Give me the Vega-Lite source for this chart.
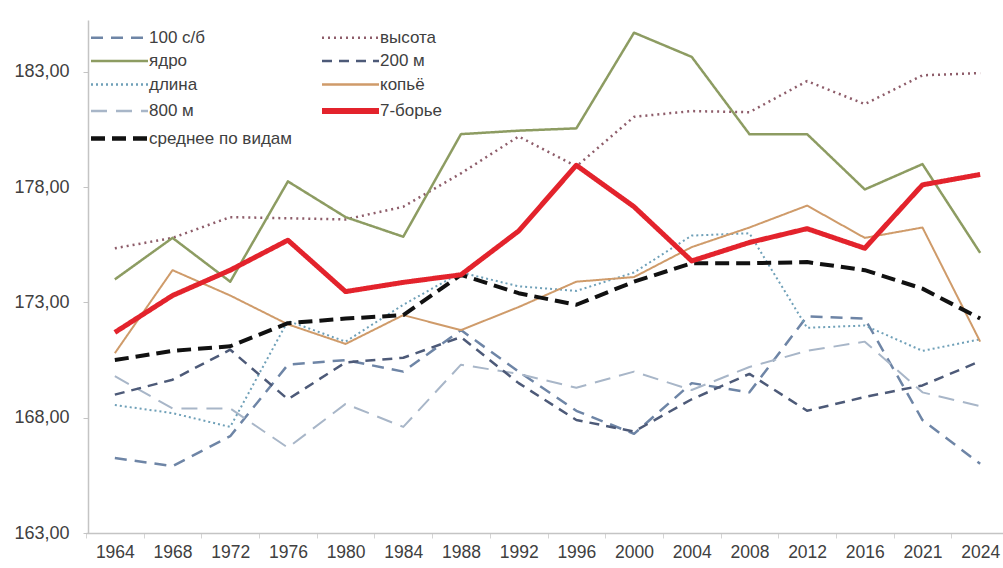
{
  "$schema": "https://vega.github.io/schema/vega-lite/v6.json",
  "width": 915,
  "height": 513,
  "autosize": {"type": "none"},
  "padding": {"left": 88, "top": 20, "right": 0, "bottom": 35},
  "background": "white",
  "config": {"view": {"stroke": null}, "font": "Liberation Sans"},
  "datasets": {
    "d": [
      {"year":1964,"series":"100 с/б","value":166.25},{"year":1968,"series":"100 с/б","value":165.9},{"year":1972,"series":"100 с/б","value":167.2},{"year":1976,"series":"100 с/б","value":170.3},{"year":1980,"series":"100 с/б","value":170.5},{"year":1984,"series":"100 с/б","value":170.0},{"year":1988,"series":"100 с/б","value":171.8},{"year":1992,"series":"100 с/б","value":170.0},{"year":1996,"series":"100 с/б","value":168.3},{"year":2000,"series":"100 с/б","value":167.3},{"year":2004,"series":"100 с/б","value":169.5},{"year":2008,"series":"100 с/б","value":169.1},{"year":2012,"series":"100 с/б","value":172.4},{"year":2016,"series":"100 с/б","value":172.3},{"year":2021,"series":"100 с/б","value":167.9},{"year":2024,"series":"100 с/б","value":166.0},
      {"year":1964,"series":"800 м","value":169.8},{"year":1968,"series":"800 м","value":168.4},{"year":1972,"series":"800 м","value":168.4},{"year":1976,"series":"800 м","value":166.7},{"year":1980,"series":"800 м","value":168.6},{"year":1984,"series":"800 м","value":167.6},{"year":1988,"series":"800 м","value":170.3},{"year":1992,"series":"800 м","value":169.9},{"year":1996,"series":"800 м","value":169.3},{"year":2000,"series":"800 м","value":170.0},{"year":2004,"series":"800 м","value":169.2},{"year":2008,"series":"800 м","value":170.2},{"year":2012,"series":"800 м","value":170.9},{"year":2016,"series":"800 м","value":171.3},{"year":2021,"series":"800 м","value":169.1},{"year":2024,"series":"800 м","value":168.5},
      {"year":1964,"series":"200 м","value":169.0},{"year":1968,"series":"200 м","value":169.65},{"year":1972,"series":"200 м","value":170.95},{"year":1976,"series":"200 м","value":168.8},{"year":1980,"series":"200 м","value":170.4},{"year":1984,"series":"200 м","value":170.6},{"year":1988,"series":"200 м","value":171.5},{"year":1992,"series":"200 м","value":169.5},{"year":1996,"series":"200 м","value":167.9},{"year":2000,"series":"200 м","value":167.4},{"year":2004,"series":"200 м","value":168.8},{"year":2008,"series":"200 м","value":169.9},{"year":2012,"series":"200 м","value":168.3},{"year":2016,"series":"200 м","value":168.9},{"year":2021,"series":"200 м","value":169.4},{"year":2024,"series":"200 м","value":170.45},
      {"year":1964,"series":"длина","value":168.55},{"year":1968,"series":"длина","value":168.2},{"year":1972,"series":"длина","value":167.6},{"year":1976,"series":"длина","value":172.2},{"year":1980,"series":"длина","value":171.3},{"year":1984,"series":"длина","value":172.9},{"year":1988,"series":"длина","value":174.3},{"year":1992,"series":"длина","value":173.7},{"year":1996,"series":"длина","value":173.5},{"year":2000,"series":"длина","value":174.3},{"year":2004,"series":"длина","value":175.9},{"year":2008,"series":"длина","value":176.0},{"year":2012,"series":"длина","value":171.9},{"year":2016,"series":"длина","value":172.0},{"year":2021,"series":"длина","value":170.9},{"year":2024,"series":"длина","value":171.4},
      {"year":1964,"series":"высота","value":175.35},{"year":1968,"series":"высота","value":175.8},{"year":1972,"series":"высота","value":176.7},{"year":1976,"series":"высота","value":176.65},{"year":1980,"series":"высота","value":176.6},{"year":1984,"series":"высота","value":177.15},{"year":1988,"series":"высота","value":178.6},{"year":1992,"series":"высота","value":180.2},{"year":1996,"series":"высота","value":178.9},{"year":2000,"series":"высота","value":181.05},{"year":2004,"series":"высота","value":181.3},{"year":2008,"series":"высота","value":181.25},{"year":2012,"series":"высота","value":182.6},{"year":2016,"series":"высота","value":181.6},{"year":2021,"series":"высота","value":182.85},{"year":2024,"series":"высота","value":182.95},
      {"year":1964,"series":"ядро","value":174.0},{"year":1968,"series":"ядро","value":175.8},{"year":1972,"series":"ядро","value":173.9},{"year":1976,"series":"ядро","value":178.25},{"year":1980,"series":"ядро","value":176.7},{"year":1984,"series":"ядро","value":175.85},{"year":1988,"series":"ядро","value":180.3},{"year":1992,"series":"ядро","value":180.45},{"year":1996,"series":"ядро","value":180.55},{"year":2000,"series":"ядро","value":184.7},{"year":2004,"series":"ядро","value":183.65},{"year":2008,"series":"ядро","value":180.3},{"year":2012,"series":"ядро","value":180.3},{"year":2016,"series":"ядро","value":177.9},{"year":2021,"series":"ядро","value":179.0},{"year":2024,"series":"ядро","value":175.15},
      {"year":1964,"series":"копьё","value":170.8},{"year":1968,"series":"копьё","value":174.4},{"year":1972,"series":"копьё","value":173.3},{"year":1976,"series":"копьё","value":172.05},{"year":1980,"series":"копьё","value":171.2},{"year":1984,"series":"копьё","value":172.45},{"year":1988,"series":"копьё","value":171.8},{"year":1992,"series":"копьё","value":172.8},{"year":1996,"series":"копьё","value":173.9},{"year":2000,"series":"копьё","value":174.1},{"year":2004,"series":"копьё","value":175.4},{"year":2008,"series":"копьё","value":176.25},{"year":2012,"series":"копьё","value":177.2},{"year":2016,"series":"копьё","value":175.8},{"year":2021,"series":"копьё","value":176.25},{"year":2024,"series":"копьё","value":171.3},
      {"year":1964,"series":"среднее по видам","value":170.5},{"year":1968,"series":"среднее по видам","value":170.9},{"year":1972,"series":"среднее по видам","value":171.1},{"year":1976,"series":"среднее по видам","value":172.1},{"year":1980,"series":"среднее по видам","value":172.3},{"year":1984,"series":"среднее по видам","value":172.45},{"year":1988,"series":"среднее по видам","value":174.2},{"year":1992,"series":"среднее по видам","value":173.4},{"year":1996,"series":"среднее по видам","value":172.9},{"year":2000,"series":"среднее по видам","value":173.9},{"year":2004,"series":"среднее по видам","value":174.7},{"year":2008,"series":"среднее по видам","value":174.7},{"year":2012,"series":"среднее по видам","value":174.75},{"year":2016,"series":"среднее по видам","value":174.4},{"year":2021,"series":"среднее по видам","value":173.6},{"year":2024,"series":"среднее по видам","value":172.3},
      {"year":1964,"series":"7-борье","value":171.7},{"year":1968,"series":"7-борье","value":173.3},{"year":1972,"series":"7-борье","value":174.4},{"year":1976,"series":"7-борье","value":175.7},{"year":1980,"series":"7-борье","value":173.47},{"year":1984,"series":"7-борье","value":173.87},{"year":1988,"series":"7-борье","value":174.2},{"year":1992,"series":"7-борье","value":176.1},{"year":1996,"series":"7-борье","value":178.95},{"year":2000,"series":"7-борье","value":177.15},{"year":2004,"series":"7-борье","value":174.8},{"year":2008,"series":"7-борье","value":175.6},{"year":2012,"series":"7-борье","value":176.2},{"year":2016,"series":"7-борье","value":175.35},{"year":2021,"series":"7-борье","value":178.1},{"year":2024,"series":"7-борье","value":178.55}
    ]
  },
  "data": {"name": "d"},
  "mark": {"type": "line", "strokeCap": "butt", "strokeJoin": "round"},
  "encoding": {
    "x": {
      "field": "year",
      "type": "ordinal",
      "bandPosition": 0.5,
      "scale": {"type": "band", "paddingInner": 0, "paddingOuter": 0, "range": [-2, 921]},
      "axis": {
        "title": null,
        "labelAngle": 0,
        "tickBand": "extent",
        "domainColor": "#c4c4c4",
        "domainWidth": 1.5,
        "tickColor": "#d4d4d4",
        "tickSize": 5,
        "labelFontSize": 17.5,
        "labelPadding": 5,
        "labelColor": "#404040"
      }
    },
    "y": {
      "field": "value",
      "type": "quantitative",
      "scale": {"domain": [163, 185.25], "nice": false, "zero": false},
      "axis": {
        "title": null,
        "values": [163, 168, 173, 178, 183],
        "labelExpr": "replace(format(datum.value, '.2f'), '.', ',')",
        "grid": false,
        "domainColor": "#c4c4c4",
        "domainWidth": 1.5,
        "tickColor": "#c4c4c4",
        "tickSize": 5,
        "labelPadding": 14,
        "labelFontSize": 18,
        "labelColor": "#404040"
      }
    },
    "color": {
      "field": "series",
      "type": "nominal",
      "scale": {
        "domain": ["100 с/б", "ядро", "длина", "800 м", "среднее по видам", "высота", "200 м", "копьё", "7-борье"],
        "range": ["#6e85a6", "#8d9c62", "#6fa0b8", "#a8b6c8", "#111111", "#8e5d6a", "#4d5a78", "#cf9b6a", "#e3232c"]
      },
      "legend": {
        "title": null,
        "orient": "none",
        "legendX": 23,
        "legendY": 9,
        "columns": 2,
        "columnPadding": 18,
        "rowPadding": 5.5,
        "symbolType": "stroke",
        "symbolSize": 3249,
        "symbolStrokeWidth": 2.5,
        "labelFontSize": 17,
        "labelColor": "#404040",
        "labelOffset": 21,
        "labelLimit": 300,
        "encode": {
          "symbols": {
            "update": {
              "strokeWidth": {"signal": "datum.value === '7-борье' ? 6 : datum.value === 'среднее по видам' ? 4.5 : 2.5"}
            }
          }
        }
      }
    },
    "strokeDash": {
      "field": "series",
      "type": "nominal",
      "scale": {
        "domain": ["100 с/б", "ядро", "длина", "800 м", "среднее по видам", "высота", "200 м", "копьё", "7-борье"],
        "range": [[12, 8], [1, 0], [2, 3], [16, 9], [14, 7], [2, 4], [10, 7], [1, 0], [1, 0]]
      },
      "legend": {
        "title": null,
        "orient": "none",
        "legendX": 23,
        "legendY": 9,
        "columns": 2,
        "columnPadding": 18,
        "rowPadding": 5.5,
        "symbolType": "stroke",
        "symbolSize": 3249,
        "symbolStrokeWidth": 2.5,
        "labelFontSize": 17,
        "labelColor": "#404040",
        "labelOffset": 21,
        "labelLimit": 300,
        "encode": {
          "symbols": {
            "update": {
              "strokeWidth": {"signal": "datum.value === '7-борье' ? 6 : datum.value === 'среднее по видам' ? 4.5 : 2.5"}
            }
          }
        }
      }
    },
    "strokeWidth": {
      "condition": [
        {"test": "datum.series === '7-борье'", "value": 5},
        {"test": "datum.series === 'среднее по видам'", "value": 4},
        {"test": "datum.series === 'длина' || datum.series === 'копьё' || datum.series === '800 м'", "value": 2}
      ],
      "value": 2.5
    }
  }
}
